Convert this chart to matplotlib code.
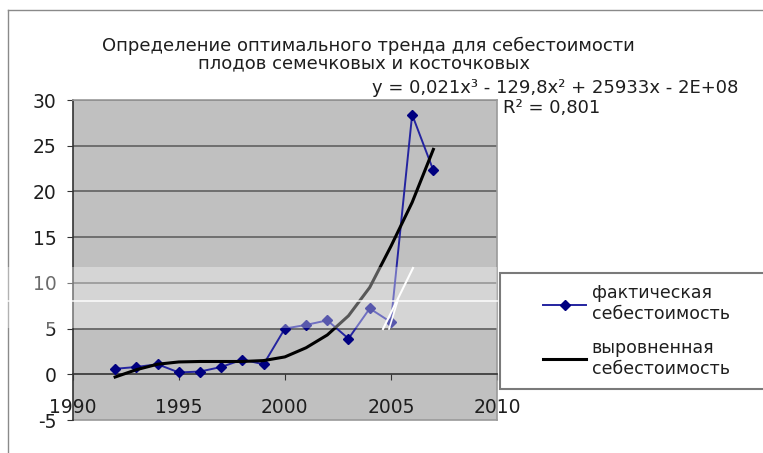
import matplotlib
matplotlib.use("Agg")
import matplotlib.pyplot as plt
from matplotlib.lines import Line2D
from matplotlib.patches import Rectangle

# Data
years = [1992, 1993, 1994, 1995, 1996, 1997, 1998, 1999,
         2000, 2001, 2002, 2003, 2004, 2005, 2006, 2007]
actual_cost = [0.6, 0.8, 1.1, 0.2, 0.3, 0.8, 1.6, 1.1,
               5.0, 5.4, 5.9, 3.9, 7.2, 5.7, 28.4, 22.3]
trend_cost = [-0.3, 0.5, 1.1, 1.35, 1.4, 1.4, 1.4, 1.5,
              1.9, 2.9, 4.3, 6.4, 9.5, 14.0, 18.8, 24.6]

x_ticks = [1990, 1995, 2000, 2005, 2010]
y_ticks = [-5, 0, 5, 10, 15, 20, 25, 30]

title_lines = ["Определение оптимального тренда для себестоимости",
               "плодов семечковых и косточковых"]
equation = "y = 0,021x³ - 129,8x² + 25933x - 2E+08"
r_squared = "R² = 0,801"
legend_labels = ["фактическая\nсебестоимость", "выровненная\nсебестоимость"]

W, H = 763, 453
TEXT = "#1e1e1e"


def fx(px):
    return px / W


def fy(py):
    return 1 - py / H


plt.rcParams["font.family"] = ["DejaVu Sans"]

fig = plt.figure(figsize=(W / 100, H / 100), dpi=100)
ax = fig.add_axes([fx(72.7), fy(420), fx(497) - fx(72.7), fy(100) - fy(420)])
ax.set_facecolor("#c0c0c0")

# Series
ax.plot(years, actual_cost, color="#2424a0", lw=1.4, marker="D", ms=5,
        mfc="#000080", mec="#000080", zorder=3)
ax.plot(years, trend_cost, color="black", lw=2.2, zorder=4)

ax.set_xlim(1990, 2010)
ax.set_ylim(-5, 30)
ax.set_xticks(x_ticks)
ax.set_yticks(y_ticks)
ax.set_xticklabels([str(t) for t in x_ticks])
ax.set_yticklabels([str(t) for t in y_ticks])

# Gridlines
for t in y_ticks:
    if t > 0:
        ax.axhline(t, color="#686868", lw=1.3, zorder=1)
ax.axhline(-5, color="#9a9a9a", lw=1.2, clip_on=False, zorder=1)

# Axes styling: x axis crosses at y = 0
ax.spines["bottom"].set_position(("data", 0))
ax.spines["bottom"].set_color("#333333")
ax.spines["bottom"].set_linewidth(1.2)
ax.spines["left"].set_color("#333333")
ax.spines["left"].set_linewidth(1.2)
for s in ("top", "right"):
    ax.spines[s].set_color("#9a9a9a")
    ax.spines[s].set_linewidth(1.2)

ax.tick_params(axis="x", direction="out", length=4, pad=13,
               labelsize=13.5, colors="#333333", labelcolor=TEXT)
ax.tick_params(axis="y", direction="out", length=4.5, pad=7,
               labelsize=13.5, colors="#333333", labelcolor=TEXT)

# Titles and trend annotation
fig.text(fx(368), fy(46), title_lines[0], ha="center", va="center",
         fontsize=13, color=TEXT)
fig.text(fx(364), fy(63), title_lines[1], ha="center", va="center",
         fontsize=13, color=TEXT)
fig.text(fx(738), fy(88), equation, ha="right", va="center",
         fontsize=13, color=TEXT)
fig.text(fx(503), fy(108), r_squared, ha="left", va="center",
         fontsize=13, color=TEXT)

# Outer chart frame (left and top edges visible)
fig.add_artist(Line2D([fx(8), fx(8)], [0, fy(10)], color="#8a8a8a", lw=1))
fig.add_artist(Line2D([fx(8), 1], [fy(10), fy(10)], color="#8a8a8a", lw=1))

# Legend box
fig.add_artist(Rectangle((fx(500), fy(389)), fx(275), fy(273) - fy(389),
                         facecolor="white", edgecolor="#7a7a7a", lw=1.5,
                         zorder=2))
handles = [Line2D([], [], color="#2424a0", lw=1.4, marker="D", ms=5,
                  mfc="#000080", mec="#000080"),
           Line2D([], [], color="black", lw=2.2)]
fig.legend(handles, legend_labels, loc="center left",
           bbox_to_anchor=(fx(543), fy(331)), frameon=False, borderpad=0,
           borderaxespad=0, handlelength=2.5, handletextpad=0.3,
           labelspacing=0.9, fontsize=12.5, labelcolor=TEXT)

# Light band and white strokes that cross the original picture
fig.add_artist(Rectangle((0, fy(328)), fx(497), fy(267) - fy(328),
                         facecolor="white", edgecolor="none", alpha=0.35,
                         zorder=6))
fig.add_artist(Line2D([0, fx(497)], [fy(301), fy(301)], color="white",
                      lw=1.3, alpha=0.8, zorder=6))
fig.add_artist(Line2D([fx(383), fx(413)], [fy(329), fy(268)], color="white",
                      lw=1.5, zorder=6))
fig.add_artist(Line2D([fx(389), fx(398)], [fy(329), fy(300)], color="white",
                      lw=1.2, zorder=6))

fig.savefig("out.png", dpi=100)
